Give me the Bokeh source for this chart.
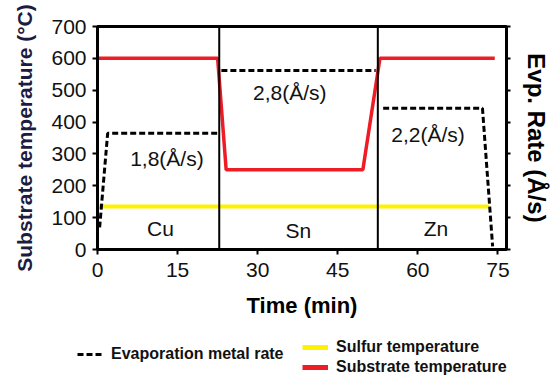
from bokeh.plotting import figure
from bokeh.models import Range1d, LinearAxis, FixedTicker, Span, Legend, LegendItem
from bokeh.core.properties import value
from bokeh.embed import file_html
from bokeh.resources import INLINE
import numpy as np

FONT = "Liberation Sans"

# ---- data ----
x_ticks = [0, 15, 30, 45, 60, 75]
y_ticks = [0, 100, 200, 300, 400, 500, 600, 700]

substrate_time = [0, 22.5, 24.1, 49.7, 52.9, 74.4]
substrate_temp = [600, 600, 250, 250, 600, 600]

sulfur_time = [0, 73.3]
sulfur_temp = [135, 135]

# evaporation rate (Å/s), NaN separates the three metals
evap_time = [0.4, 1.9, 22.8, np.nan, 23.2, 52.1, np.nan, 53.5, 72.1, 74.0]
evap_rate = [0.3, 1.8, 1.8, np.nan, 2.8, 2.8, np.nan, 2.2, 2.2, 0.0]

dividers = [22.8, 52.5]

rate_labels = ["1,8(Å/s)", "2,8(Å/s)", "2,2(Å/s)"]
rate_label_t = [13.0, 36.0, 61.9]
rate_label_temp = [285, 493, 361]

metal_labels = ["Cu", "Sn", "Zn"]
metal_label_t = [11.8, 37.6, 63.4]
metal_label_temp = [66, 60, 66]

legend_labels = ["Evaporation metal rate", "Sulfur temperature", "Substrate temperature"]

SUL_COLOR = "#fff200"
SUB_COLOR = "#ee1c25"

# ---- main figure ----
p = figure(width=552, height=320, output_backend="svg", toolbar_location=None,
           x_range=Range1d(0, 76.6), y_range=Range1d(0, 700),
           min_border_left=97, min_border_right=45, min_border_top=26, min_border_bottom=71)
p.background_fill_color = "white"
p.border_fill_color = "white"
p.xgrid.visible = False
p.ygrid.visible = False
p.outline_line_color = "black"
p.outline_line_width = 3

rate_start, rate_end = -0.0508, 3.503
p.extra_y_ranges = {"rate": Range1d(rate_start, rate_end)}

for ax in (p.xaxis[0], p.yaxis[0]):
    ax.axis_line_width = 3
    ax.axis_line_color = "black"
    ax.major_tick_line_width = 2
    ax.major_tick_line_color = "black"
    ax.major_tick_out = 5
    ax.major_tick_in = 0
    ax.minor_tick_line_color = None
    ax.major_label_text_font = FONT
    ax.major_label_text_font_size = "21px"
    ax.major_label_text_color = "#111111"
    ax.axis_label_text_font = FONT
    ax.axis_label_text_font_style = "bold"

p.xaxis.ticker = FixedTicker(ticks=x_ticks)
p.yaxis.ticker = FixedTicker(ticks=y_ticks)
p.xaxis.major_label_standoff = 8
p.yaxis.major_label_standoff = 6
p.xaxis.axis_label = "Time (min)"
p.xaxis.axis_label_text_font_size = "22px"
p.xaxis.axis_label_text_color = "black"
p.xaxis.axis_label_standoff = 13
p.yaxis.axis_label = "Substrate temperature (°C)"
p.yaxis.axis_label_text_font_size = "21px"
p.yaxis.axis_label_text_color = "#1c1c40"
p.yaxis.axis_label_standoff = 12

right_ticks = [rate_start + i * (rate_end - rate_start) / 7 for i in range(8)]
ra = LinearAxis(y_range_name="rate", ticker=FixedTicker(ticks=right_ticks),
                axis_label="Evp. Rate (Å/s)")
ra.axis_line_width = 3
ra.major_tick_line_width = 2
ra.major_tick_out = 4
ra.major_tick_in = 0
ra.minor_tick_line_color = None
ra.major_label_text_font_size = "0px"
ra.major_label_standoff = 0
ra.axis_label_text_font = FONT
ra.axis_label_text_font_style = "bold"
ra.axis_label_text_font_size = "24px"
ra.axis_label_text_color = "black"
ra.axis_label_standoff = 12
p.add_layout(ra, "right")

for d in dividers:
    p.add_layout(Span(location=d, dimension="height", line_color="black", line_width=2))

p.line(sulfur_time, sulfur_temp, line_color=SUL_COLOR, line_width=4)
p.line(substrate_time, substrate_temp, line_color=SUB_COLOR, line_width=3.5)
p.line(evap_time, evap_rate, y_range_name="rate", line_color="black",
       line_width=3, line_dash="6 3")

p.text(rate_label_t, rate_label_temp, text=rate_labels, text_font=value(FONT),
       text_font_size="21px", text_align="center", text_baseline="middle", text_color="#111111")
p.text(metal_label_t, metal_label_temp, text=metal_labels, text_font=value(FONT),
       text_font_size="21px", text_align="center", text_baseline="middle", text_color="#111111")

# ---- legend strip (separate root, its series lie outside its view) ----
lf = figure(width=552, height=58, output_backend="svg", toolbar_location=None,
            x_range=Range1d(0, 76.6), y_range=Range1d(-2, -1),
            x_axis_type=None, y_axis_type=None,
            min_border_left=0, min_border_right=0, min_border_top=0, min_border_bottom=0)
lf.outline_line_color = None
lf.xgrid.visible = False
lf.ygrid.visible = False
lf.background_fill_color = "white"
lf.border_fill_color = "white"

l_evp = lf.line(evap_time, evap_rate, line_color="black", line_width=3, line_dash="6 3")
l_sul = lf.line(sulfur_time, sulfur_temp, line_color=SUL_COLOR, line_width=5)
l_sub = lf.line(substrate_time, substrate_temp, line_color=SUB_COLOR, line_width=5)

def mk_legend(items, loc):
    lg = Legend(items=items, location=loc, orientation="vertical")
    lg.border_line_color = None
    lg.background_fill_alpha = 0
    lg.padding = 0
    lg.margin = 0
    lg.spacing = 0
    lg.glyph_width = 26
    lg.glyph_height = 20
    lg.label_height = 20
    lg.label_standoff = 8
    lg.label_text_font = FONT
    lg.label_text_font_size = "16px"
    lg.label_text_font_style = "bold"
    lg.label_text_color = "#111111"
    lg.label_text_baseline = "middle"
    return lg

lf.add_layout(mk_legend([LegendItem(label=legend_labels[0], renderers=[l_evp])], (77, 14)))
lf.add_layout(mk_legend([LegendItem(label=legend_labels[1], renderers=[l_sul]),
                         LegendItem(label=legend_labels[2], renderers=[l_sub])], (302, 1)))

open("out.html", "w").write(file_html([p, lf], INLINE))
